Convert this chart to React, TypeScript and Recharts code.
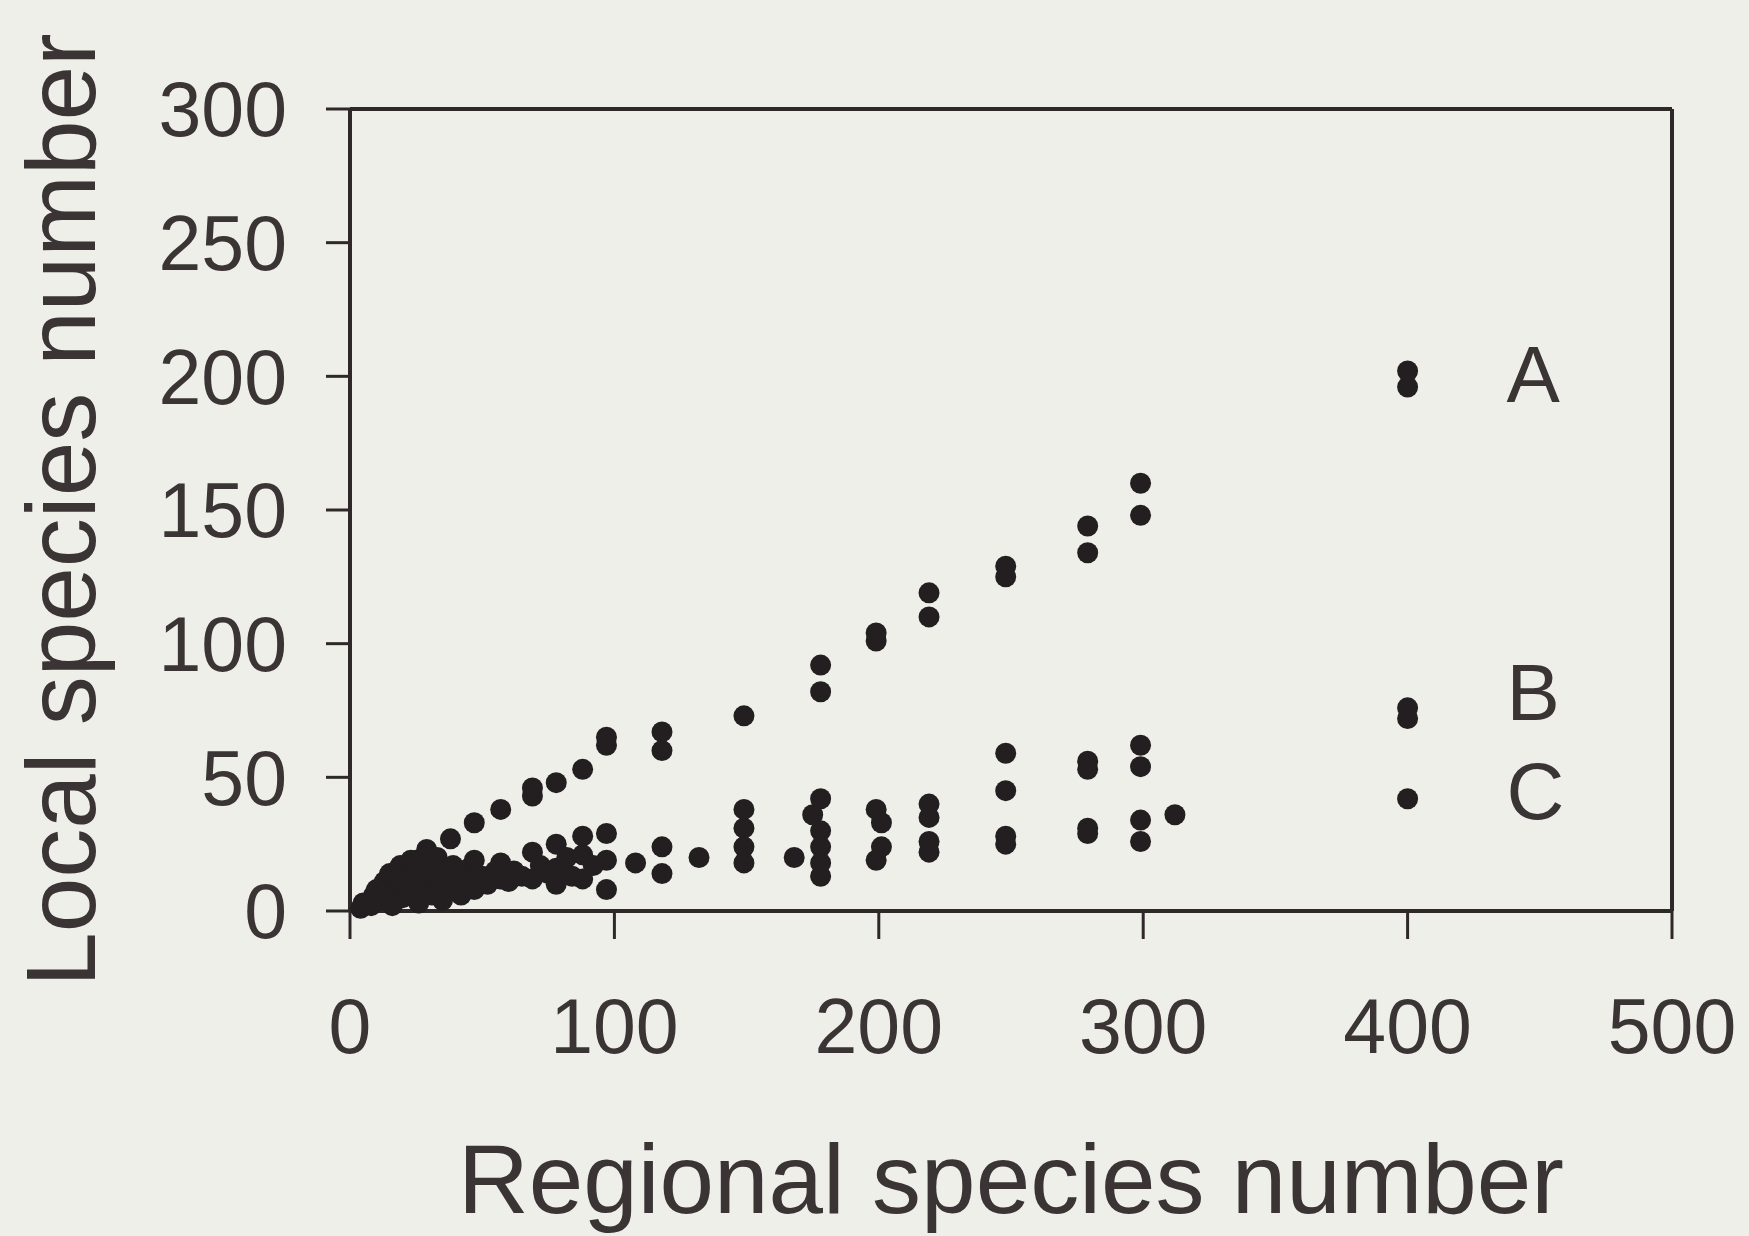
import { ScatterChart, Scatter, XAxis, YAxis, ReferenceLine, ReferenceDot } from "recharts"

const xTicks = [0, 100, 200, 300, 400, 500]
const yTicks = [0, 50, 100, 150, 200, 250, 300]

// upper band (ends at "A")
const seriesA = [
  { x: 5, y: 3 }, { x: 9, y: 6 }, { x: 12, y: 9 }, { x: 15, y: 12 }, { x: 18, y: 15 },
  { x: 22, y: 17 }, { x: 25, y: 19 }, { x: 29, y: 23 }, { x: 38, y: 27 }, { x: 47, y: 33 },
  { x: 57, y: 38 }, { x: 69, y: 43 }, { x: 69, y: 46 }, { x: 78, y: 48 }, { x: 88, y: 53 },
  { x: 97, y: 62 }, { x: 97, y: 65 }, { x: 118, y: 60 }, { x: 118, y: 67 }, { x: 149, y: 73 },
  { x: 178, y: 82 }, { x: 178, y: 92 }, { x: 199, y: 101 }, { x: 199, y: 104 }, { x: 219, y: 110 },
  { x: 219, y: 119 }, { x: 248, y: 125 }, { x: 248, y: 129 }, { x: 279, y: 134 }, { x: 279, y: 144 },
  { x: 299, y: 148 }, { x: 299, y: 160 }, { x: 400, y: 196 }, { x: 400, y: 202 },
]

// middle band (ends at "B")
const seriesB = [
  { x: 13, y: 11 }, { x: 15, y: 14 }, { x: 19, y: 17 }, { x: 22, y: 15 }, { x: 23, y: 19 },
  { x: 27, y: 17 }, { x: 33, y: 20 }, { x: 36, y: 15 }, { x: 39, y: 17 }, { x: 45, y: 16 },
  { x: 47, y: 19 }, { x: 57, y: 18 }, { x: 69, y: 22 }, { x: 78, y: 25 }, { x: 88, y: 28 },
  { x: 97, y: 29 }, { x: 118, y: 24 }, { x: 149, y: 38 }, { x: 149, y: 31 }, { x: 178, y: 42 },
  { x: 175, y: 36 }, { x: 199, y: 38 }, { x: 201, y: 33 }, { x: 219, y: 40 }, { x: 219, y: 35 },
  { x: 248, y: 59 }, { x: 248, y: 45 }, { x: 279, y: 56 }, { x: 279, y: 53 }, { x: 299, y: 62 },
  { x: 299, y: 54 }, { x: 312, y: 36 }, { x: 400, y: 72 }, { x: 400, y: 76 },
]

// lower band (ends at "C")
const seriesC = [
  { x: 4, y: 1 }, { x: 6, y: 3 }, { x: 8, y: 2 }, { x: 9, y: 5 }, { x: 10, y: 8 },
  { x: 12, y: 4 }, { x: 14, y: 7 }, { x: 16, y: 2 }, { x: 17, y: 9 }, { x: 18, y: 12 },
  { x: 20, y: 5 }, { x: 21, y: 10 }, { x: 24, y: 7 }, { x: 25, y: 13 }, { x: 26, y: 3 },
  { x: 28, y: 10 }, { x: 30, y: 14 }, { x: 31, y: 6 }, { x: 34, y: 11 }, { x: 35, y: 4 },
  { x: 38, y: 9 }, { x: 40, y: 13 }, { x: 42, y: 6 }, { x: 44, y: 11 }, { x: 47, y: 8 },
  { x: 50, y: 13 }, { x: 52, y: 10 }, { x: 55, y: 15 }, { x: 57, y: 12 }, { x: 60, y: 11 },
  { x: 62, y: 15 }, { x: 65, y: 13 }, { x: 69, y: 12 }, { x: 72, y: 17 }, { x: 75, y: 14 },
  { x: 78, y: 16 }, { x: 78, y: 10 }, { x: 82, y: 20 }, { x: 84, y: 13 }, { x: 88, y: 21 },
  { x: 88, y: 12 }, { x: 92, y: 17 }, { x: 97, y: 19 }, { x: 97, y: 8 }, { x: 108, y: 18 },
  { x: 118, y: 14 }, { x: 132, y: 20 }, { x: 149, y: 24 }, { x: 149, y: 18 }, { x: 168, y: 20 },
  { x: 178, y: 30 }, { x: 178, y: 24 }, { x: 178, y: 18 }, { x: 178, y: 13 }, { x: 201, y: 24 },
  { x: 199, y: 19 }, { x: 219, y: 26 }, { x: 219, y: 22 }, { x: 248, y: 28 }, { x: 248, y: 25 },
  { x: 279, y: 31 }, { x: 279, y: 29 }, { x: 299, y: 34 }, { x: 299, y: 26 }, { x: 400, y: 42 },
]

const groupLabels = [
  { name: "A", x: 400, y: 201 },
  { name: "B", x: 400, y: 82 },
  { name: "C", x: 400, y: 45 },
]

const ink = "#231e20"
const textInk = "#3a3435"
const lineInk = "#2f2829"
const font = '"Liberation Sans", Arial, Helvetica, sans-serif'

const Dot = (props: any) => <circle cx={props.cx} cy={props.cy} r={10.5} fill={ink} />

const XTitle = (props: any) => {
  const vb = props.viewBox ?? { x: 350, y: 911, width: 1322, height: 325 }
  return (
    <text x={vb.x + vb.width / 2} y={vb.y + 302} textAnchor="middle" fontSize={98} fill={textInk} fontFamily={font}>
      Regional species number
    </text>
  )
}

const YTitle = (props: any) => {
  const vb = props.viewBox ?? { x: 0, y: 109, width: 350, height: 802 }
  const cx = vb.x + 95
  const cy = vb.y + vb.height / 2
  return (
    <text x={cx} y={cy} transform={`rotate(-90 ${cx} ${cy})`} textAnchor="middle" fontSize={98} fill={textInk} fontFamily={font}>
      Local species number
    </text>
  )
}

export default function App() {
  return (
    <div style={{ position: "absolute", left: 0, top: 0, width: 1749, height: 1236, background: "#efefea" }}>
      <ScatterChart width={1749} height={1236} margin={{ top: 109, right: 77, bottom: 0, left: 0 }}>
        <XAxis
          type="number"
          dataKey="x"
          domain={[0, 500]}
          ticks={xTicks}
          height={325}
          tickSize={28}
          tickMargin={59}
          axisLine={{ stroke: lineInk, strokeWidth: 4 }}
          tickLine={{ stroke: lineInk, strokeWidth: 3 }}
          tick={{ fill: textInk, fontSize: 77, fontFamily: font }}
          label={<XTitle />}
        />
        <YAxis
          type="number"
          dataKey="y"
          domain={[0, 300]}
          ticks={yTicks}
          width={350}
          tickSize={24}
          tickMargin={39}
          axisLine={{ stroke: lineInk, strokeWidth: 4 }}
          tickLine={{ stroke: lineInk, strokeWidth: 3 }}
          tick={{ fill: textInk, fontSize: 77, fontFamily: font }}
          label={<YTitle />}
        />
        <ReferenceLine y={300} stroke={lineInk} strokeWidth={4} />
        <ReferenceLine x={500} stroke={lineInk} strokeWidth={4} />
        <Scatter data={seriesA} shape={Dot} isAnimationActive={false} />
        <Scatter data={seriesB} shape={Dot} isAnimationActive={false} />
        <Scatter data={seriesC} shape={Dot} isAnimationActive={false} />
        {groupLabels.map((g) => (
          <ReferenceDot
            key={g.name}
            x={g.x}
            y={g.y}
            r={0}
            stroke="none"
            label={{ value: g.name, position: "right", offset: 99, fontSize: 80, fill: textInk, fontFamily: font }}
          />
        ))}
      </ScatterChart>
    </div>
  )
}
